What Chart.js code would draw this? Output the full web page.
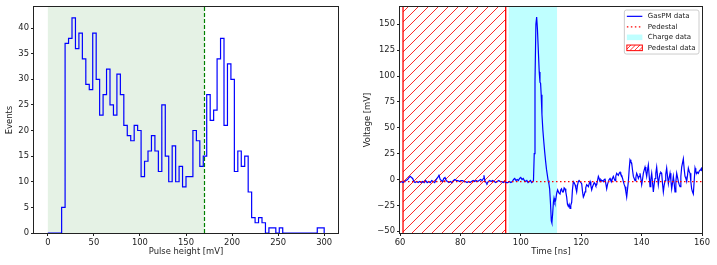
<!DOCTYPE html>
<html><head><meta charset="utf-8">
<script src="https://cdn.jsdelivr.net/npm/chart.js@4.4.0/dist/chart.umd.min.js"></script>
<style>
html,body{margin:0;padding:0;background:#fff;width:717px;height:265px;overflow:hidden}
#c1{position:absolute;left:0;top:0}
#c2{position:absolute;left:355px;top:0}
</style></head><body>
<canvas id="c1" width="345" height="265" style="width:345px;height:265px"></canvas>
<canvas id="c2" width="362" height="265" style="width:362px;height:265px"></canvas>
<script>
// ---------- Left panel: pulse height histogram ----------
const binEdges = [0, 3.75, 7.5, 11.25, 15, 18.75, 22.5, 26.25, 30, 33.75, 37.5, 41.25, 45, 48.75, 52.5, 56.25,
  60, 63.75, 67.5, 71.25, 75, 78.75, 82.5, 86.25, 90, 93.75, 97.5, 101.25, 105, 108.75, 112.5, 116.25,
  120, 123.75, 127.5, 131.25, 135, 138.75, 142.5, 146.25, 150, 153.75, 157.5, 161.25, 165, 168.75, 172.5, 176.25,
  180, 183.75, 187.5, 191.25, 195, 198.75, 202.5, 206.25, 210, 213.75, 217.5, 221.25, 225, 228.75, 232.5, 236.25,
  240, 243.75, 247.5, 251.25, 255, 258.75, 262.5, 266.25, 270, 273.75, 277.5, 281.25, 285, 288.75, 292.5, 296.25, 300];
const binCounts = [0, 0, 0, 0, 0, 5, 37, 38, 42, 36, 39, 34, 29, 28, 39, 30,
  23, 27, 32, 25, 23, 31, 27, 21, 19, 18, 21, 20, 11, 14, 16, 19,
  16, 12, 25, 15, 10, 17, 10, 13, 9, 11, 11, 20, 18, 13, 15, 27,
  22, 24, 34, 38, 21, 33, 30, 12, 16, 13, 15, 8, 3, 2, 3, 2,
  0, 1, 1, 0, 1, 0, 0, 0, 0, 0, 0, 0, 0, 0, 0, 1];
const cutValue = 170;
const histXTicks = [0, 50, 100, 150, 200, 250, 300];
const histYTicks = [0, 5, 10, 15, 20, 25, 30, 35, 40];

// ---------- Right panel: waveform ----------
const waveTime = [60.0,60.5,61.0,61.5,62.0,62.5,63.0,63.4,63.8,64.2,64.6,65.0,65.5,66.0,66.5,67.0,67.5,68.0,68.5,69.0,69.5,70.0,70.5,71.0,71.5,72.0,72.5,72.9,73.3,73.7,74.1,74.5,74.9,75.3,75.7,76.2,76.7,77.2,77.7,78.2,78.7,79.2,79.7,80.2,80.7,81.2,81.7,82.2,82.7,83.2,83.7,84.2,84.7,85.2,85.7,86.2,86.7,87.2,87.6,87.8,88.1,88.5,88.8,89.2,89.7,90.2,90.7,91.2,91.7,92.2,92.7,93.2,93.7,94.2,94.7,95.2,95.7,96.2,96.7,97.2,97.6,98.0,98.4,98.8,99.2,99.6,100.0,100.4,100.8,101.2,101.6,102.0,102.4,102.8,103.2,103.6,104.0,104.2,
  104.45,104.7,105.0,105.25,105.5,105.8,106.1,106.35,106.55,106.75,107.0,107.3,107.6,107.9,108.2,108.5,108.8,109.05,109.3,109.55,109.85,110.1,110.3,110.55,110.8,111.0,111.3,111.55,111.9,112.2,112.6,112.98,113.25,113.5,113.8,114.09,114.35,114.64,114.9,115.19,115.45,115.74,116.0,116.3,116.55,116.85,117.1,117.4,117.65,117.95,118.2,118.5,118.75,119.05,119.3,119.6,119.9,120.16,120.45,120.71,121.0,121.26,121.5,121.81,122.1,122.37,122.65,122.92,123.2,123.47,123.75,124.02,124.3,124.57,124.85,125.13,125.4,125.68,125.95,126.23,126.5,126.78,127.05,127.33,127.6,127.88,128.15,128.44,128.7,128.99,129.25,129.54,129.8,130.09,130.35,130.64,130.9,131.2,131.45,131.75,132.0,132.3,132.55,132.85,133.1,133.4,133.7,133.96,134.25,134.51,134.8,135.06,135.35,135.61,135.9,136.16,136.45,136.71,137.0,137.27,137.55,137.82,138.1,138.37,138.65,138.92,139.2,139.47,139.75,140.03,140.3,140.58,140.85,141.13,141.4,141.68,141.95,142.23,142.5,142.79,143.05,143.34,143.6,143.89,144.15,144.44,144.7,144.99,145.25,145.54,145.8,146.1,146.35,146.65,146.9,147.2,147.45,147.75,148.0,148.3,148.55,148.86,149.1,149.41,149.7,149.96,150.25,150.51,150.8,151.06,151.35,151.62,151.9,152.17,152.45,152.72,153.0,153.27,153.55,153.82,154.1,154.38,154.65,154.93,155.2,155.48,155.75,156.03,156.3,156.58,156.85,157.13,157.4,157.69,157.95,158.24,158.5,158.79,159.05,159.34,159.6,159.89,160.0];
const waveVolt = [-3,-2,-3,-2,-1,0,2,3,2,1,-2,-3,-2,-3,-2,-3,-2,-3,-1,-3,-2,-3,-1,-2,-3,0,2,4,0,-1,-2,1,2,-1,-2,-3,-2,-3,-1,0,-1,-1,-2,-1,-1,-2,-2,-3,-2,-3,-2,-1,-2,-1,-2,-1,0,-1,1,4,-1,-3,-4,-2,-1,-2,-1,-2,-3,-2,-1,-2,-2,-3,-2,-3,-3,-2,-3,-2,0,1,-1,0,-1,1,2,0,1,-1,-2,-1,-3,-2,-1,-3,-2,-1,
  25,95,150,157,146,125,104,94,93,82,63,48,37,27,18,10,4,-1,-4,-9,-24,-40,-42,-33,-22,-18,-22,-20,-13,-10,-13,-14,-10,-9,-12,-12,-8,-9,-12,-17,-24,-26,-24,-28,-25,-22,-10,-2,-3,-5,-8,-12,-6,-2,-1,-1,-3,-4,-12,-17,-15,-12,-8,-5,-6,-7,-4,-2,-6,-10,-7,-5,-3,-4,-6,-5,-1,3,1,-2,0,-1,-1,-2,0,1,-4,-9,-5,-2,0,1,-1,-2,1,3,1,-1,3,6,5,4,6,7,5,4,1,-2,-5,-7,-12,-17,-9,-2,10,19,17,16,9,3,1,-1,2,6,4,1,3,6,1,-5,0,6,9,12,8,3,9,14,4,-7,0,6,-2,-12,-5,1,6,12,4,-5,1,6,7,6,-3,-12,-6,-1,5,11,4,-4,1,6,-1,-9,-3,3,-4,-12,-2,6,2,-2,-5,-7,3,12,16,20,10,3,1,-2,4,11,8,6,-2,-9,-12,-14,-2,11,8,6,7,6,8,9,10,11,8];
const pedestalLevel = -2;
const pedestalWindow = [61, 95];
const chargeWindow = [96, 112];
const waveXTicks = [60, 80, 100, 120, 140, 160];
const waveYTicks = [-50, -25, 0, 25, 50, 75, 100, 125, 150];
const legendLabels = ['GasPM data', 'Pedestal', 'Charge data', 'Pedestal data'];

// ---------- helpers ----------
Chart.defaults.font.family = "'DejaVu Sans', sans-serif";
Chart.defaults.font.size = 8.4;
Chart.defaults.color = '#222';

const minusFmt = v => String(v).replace('-', '\u2212');

function makeScale(min, max, tickVals, title, kind, fitSize, titlePadding) {
  return {
    type: 'linear', min: min, max: max,
    afterBuildTicks: s => { s.ticks = tickVals.map(v => ({ value: v })); },
    afterFit: s => { if (kind === 'x') s.height = fitSize; else s.width = fitSize; },
    ticks: { autoSkip: false, maxRotation: 0, minRotation: 0, padding: 2, color: '#222',
             font: { size: 8.4 }, callback: v => minusFmt(v) },
    grid: { display: true, drawOnChartArea: false, drawTicks: true, tickLength: 3, color: '#222', lineWidth: 1 },
    border: { display: false },
    title: { display: true, text: title, color: '#222', font: { size: 8.4 }, padding: titlePadding }
  };
}

const framePlugin = {
  id: 'frame',
  afterDatasetsDraw(chart) {
    const { ctx, chartArea: a } = chart;
    ctx.save();
    ctx.setLineDash([]);
    ctx.strokeStyle = '#222';
    ctx.lineWidth = 1;
    ctx.strokeRect(Math.round(a.left) - 0.5, Math.round(a.top) - 0.5,
                   Math.round(a.right) - Math.round(a.left) + 1, Math.round(a.bottom) - Math.round(a.top) + 1);
    ctx.restore();
  }
};

// hatch pattern tile (style only)
function makeHatchPattern(ctx, tile) {
  const c = document.createElement('canvas');
  c.width = tile; c.height = tile;
  const g = c.getContext('2d');
  g.strokeStyle = '#ff0000';
  g.lineWidth = 0.85;
  g.beginPath();
  g.moveTo(-2, tile + 2); g.lineTo(tile + 2, -2);
  g.stroke();
  g.beginPath();
  g.moveTo(-tile - 2, tile + 2); g.lineTo(2, -2);
  g.moveTo(tile - 2, 2 * tile + 2); g.lineTo(2 * tile + 2, tile - 2);
  g.stroke();
  return ctx.createPattern(c, 'repeat');
}

// ---------- Left chart ----------
const histPoints = [{ x: binEdges[0], y: 0 }];
for (let i = 0; i < binCounts.length; i++) histPoints.push({ x: binEdges[i], y: binCounts[i] });
histPoints.push({ x: binEdges[binEdges.length - 1], y: binCounts[binCounts.length - 1] });
histPoints.push({ x: binEdges[binEdges.length - 1], y: 0 });

const histRegionPlugin = {
  id: 'histRegion',
  beforeDatasetsDraw(chart) {
    const { ctx, chartArea: a, scales: { x } } = chart;
    const x0 = x.getPixelForValue(binEdges[0]), x1 = x.getPixelForValue(cutValue);
    ctx.save();
    ctx.fillStyle = 'rgba(0,128,0,0.1)';
    ctx.fillRect(x0, a.top, x1 - x0, a.bottom - a.top);
    ctx.restore();
  },
  afterDatasetsDraw(chart) {
    const { ctx, chartArea: a, scales: { x } } = chart;
    const xc = Math.round(x.getPixelForValue(cutValue)) + 0.5;
    ctx.save();
    ctx.strokeStyle = 'green';
    ctx.lineWidth = 1.2;
    ctx.setLineDash([4, 2]);
    ctx.beginPath(); ctx.moveTo(xc, a.top); ctx.lineTo(xc, a.bottom); ctx.stroke();
    ctx.restore();
  }
};

new Chart(document.getElementById('c1'), {
  type: 'line',
  data: { datasets: [{ data: histPoints, stepped: 'after', borderColor: 'blue', borderWidth: 1.2,
                       pointRadius: 0, fill: false, tension: 0 }] },
  options: {
    responsive: false, animation: false, devicePixelRatio: 1,
    layout: { padding: { top: 6, right: 7, left: 0, bottom: 0 } },
    plugins: { legend: { display: false }, tooltip: { enabled: false } },
    scales: {
      x: makeScale(-15, 315, histXTicks, 'Pulse height [mV]', 'x', 32, { top: 0, bottom: 8 }),
      y: makeScale(0, 44.1, histYTicks, 'Events', 'y', 34, { top: 5, bottom: 0 })
    }
  },
  plugins: [histRegionPlugin, framePlugin]
});

// ---------- Right chart ----------
const waveRegionPlugin = {
  id: 'waveRegion',
  beforeDatasetsDraw(chart) {
    const { ctx, chartArea: a, scales: { x } } = chart;
    const c0 = x.getPixelForValue(chargeWindow[0]), c1 = x.getPixelForValue(chargeWindow[1]);
    ctx.save();
    ctx.fillStyle = 'rgba(0,255,255,0.25)';
    ctx.fillRect(c0, a.top, c1 - c0, a.bottom - a.top);
    const p0 = x.getPixelForValue(pedestalWindow[0]), p1 = x.getPixelForValue(pedestalWindow[1]);
    ctx.fillStyle = makeHatchPattern(ctx, 10);
    ctx.fillRect(p0, a.top, p1 - p0, a.bottom - a.top);
    ctx.setLineDash([]);
    ctx.strokeStyle = '#ff0000'; ctx.lineWidth = 1.3;
    ctx.beginPath();
    ctx.moveTo(p0, a.top); ctx.lineTo(p0, a.bottom);
    ctx.moveTo(p1, a.top); ctx.lineTo(p1, a.bottom);
    ctx.stroke();
    ctx.restore();
  }
};

const legendPlugin = {
  id: 'customLegend',
  afterDraw(chart) {
    const { ctx, chartArea: a } = chart;
    ctx.save();
    ctx.font = "7px 'DejaVu Sans', sans-serif";
    let tw = 0;
    legendLabels.forEach(l => { tw = Math.max(tw, ctx.measureText(l).width); });
    const hl = 15.5, pad = 2.5, gap = 5.5;
    const bw = pad + hl + gap + tw + pad + 1;
    const bh = 44;
    const bx = a.right - 3 - bw, by = a.top + 3;
    ctx.fillStyle = 'rgba(255,255,255,0.8)';
    ctx.strokeStyle = '#cccccc';
    ctx.lineWidth = 1;
    ctx.beginPath();
    if (ctx.roundRect) ctx.roundRect(bx, by, bw, bh, 2); else ctx.rect(bx, by, bw, bh);
    ctx.fill(); ctx.stroke();
    const hx = bx + pad, tx = hx + hl + gap;
    legendLabels.forEach((lab, i) => {
      const ry = by + 6.3 + i * 10.5;
      if (i === 0) {
        ctx.strokeStyle = 'blue'; ctx.lineWidth = 1.2; ctx.setLineDash([]);
        ctx.beginPath(); ctx.moveTo(hx, ry); ctx.lineTo(hx + hl, ry); ctx.stroke();
      } else if (i === 1) {
        ctx.strokeStyle = 'red'; ctx.lineWidth = 1.2; ctx.setLineDash([1.5, 2.5]);
        ctx.beginPath(); ctx.moveTo(hx, ry); ctx.lineTo(hx + hl, ry); ctx.stroke();
        ctx.setLineDash([]);
      } else if (i === 2) {
        ctx.fillStyle = 'rgba(0,255,255,0.25)';
        ctx.fillRect(hx, ry - 2.8, hl, 5.6);
      } else {
        ctx.save();
        ctx.beginPath(); ctx.rect(hx, ry - 2.8, hl, 5.6); ctx.clip();
        ctx.strokeStyle = 'red'; ctx.lineWidth = 0.8;
        ctx.beginPath();
        for (let s = hx - 6; s < hx + hl + 6; s += 4.5) { ctx.moveTo(s, ry + 2.8); ctx.lineTo(s + 5.6, ry - 2.8); }
        ctx.stroke();
        ctx.restore();
        ctx.strokeStyle = 'red'; ctx.lineWidth = 1;
        ctx.strokeRect(hx, ry - 2.8, hl, 5.6);
      }
      ctx.fillStyle = '#1a1a1a';
      ctx.textBaseline = 'middle';
      ctx.textAlign = 'left';
      ctx.fillText(lab, tx, ry + 0.3);
    });
    ctx.restore();
  }
};

const wavePoints = waveTime.map((t, i) => ({ x: t, y: waveVolt[i] }));
const xr = [waveXTicks[0], waveXTicks[waveXTicks.length - 1]];

new Chart(document.getElementById('c2'), {
  type: 'line',
  data: { datasets: [
    { label: legendLabels[1], data: [{ x: xr[0], y: pedestalLevel }, { x: xr[1], y: pedestalLevel }],
      borderColor: 'red', borderWidth: 1.2, borderDash: [1.5, 2.5], pointRadius: 0, fill: false, order: 0 },
    { label: legendLabels[0], data: wavePoints, borderColor: 'blue', borderWidth: 1.2,
      pointRadius: 0, fill: false, tension: 0, order: 1 }
  ] },
  options: {
    responsive: false, animation: false, devicePixelRatio: 1,
    layout: { padding: { top: 7, right: 15, left: 0, bottom: 0 } },
    plugins: { legend: { display: false }, tooltip: { enabled: false } },
    scales: {
      x: makeScale(xr[0], xr[1], waveXTicks, 'Time [ns]', 'x', 32, { top: 0, bottom: 8 }),
      y: makeScale(-51.7, 166.7, waveYTicks, 'Voltage [mV]', 'y', 45, { top: 8, bottom: 0 })
    }
  },
  plugins: [waveRegionPlugin, framePlugin, legendPlugin]
});
</script></body></html>
